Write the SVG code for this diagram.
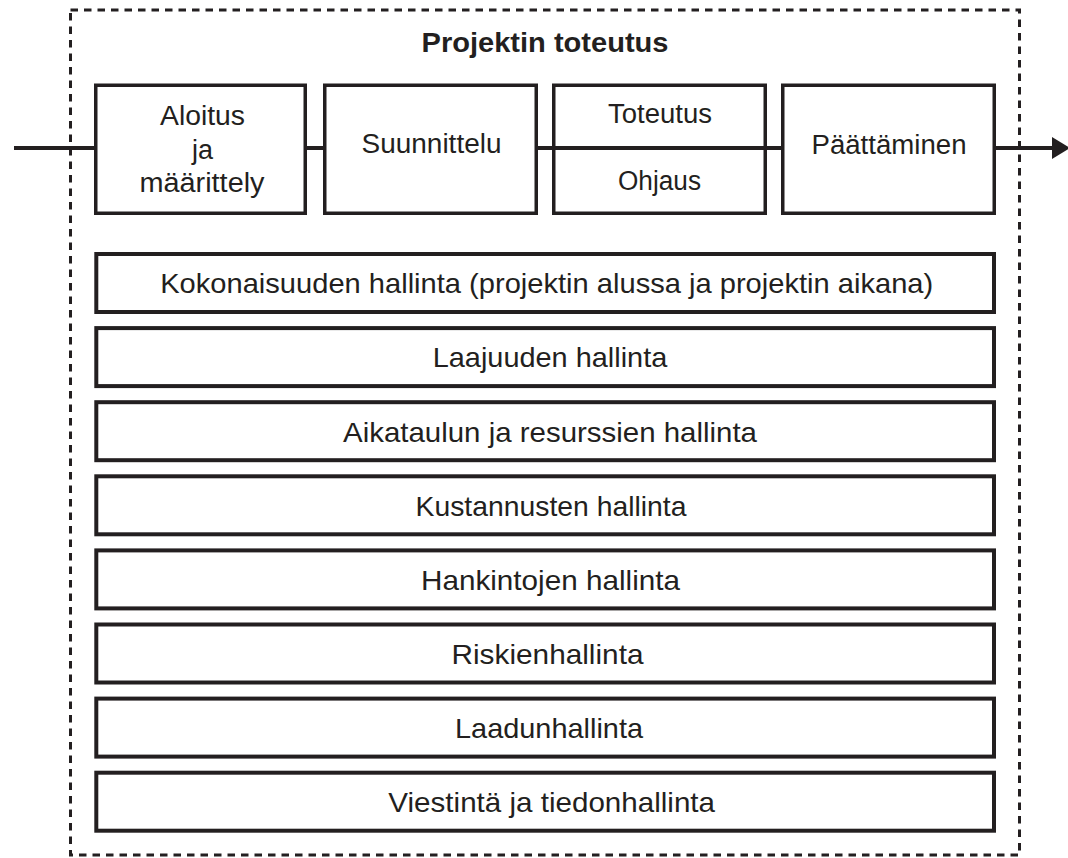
<svg xmlns="http://www.w3.org/2000/svg" width="1068" height="858" viewBox="0 0 1068 858">
<style>
  .frame { fill: none; stroke: #231f20; stroke-width: 3; stroke-dasharray: 7.5 6; }
  .phase { fill: #ffffff; stroke: #231f20; stroke-width: 3.5; }
  .row { fill: #ffffff; stroke: #231f20; stroke-width: 4; }
  .conn { fill: none; stroke: #231f20; stroke-width: 4; }
  text { font-family: "Liberation Sans", Arial, sans-serif; fill: #231f20; text-anchor: middle; }
  .title { font-size: 28px; font-weight: bold; }
  .ptxt { font-size: 27px; }
  .rtxt { font-size: 28px; }
</style>
<rect width="1068" height="858" fill="#ffffff"/>

<g id="frame">
  <rect class="frame" x="70.5" y="10" width="949" height="845"/>
  <text class="title" x="545" y="52" textLength="247" lengthAdjust="spacingAndGlyphs">Projektin toteutus</text>
</g>

<g id="connectors">
  <line class="conn" x1="14" y1="148" x2="95" y2="148"/>
  <line class="conn" x1="306" y1="148" x2="324" y2="148"/>
  <line class="conn" x1="537" y1="148" x2="782" y2="148"/>
  <line class="conn" x1="995" y1="148" x2="1054" y2="148"/>
  <polygon points="1052,137 1070,148 1052,159" fill="#231f20"/>
</g>

<g id="phase-aloitus">
  <rect class="phase" x="95.75" y="85.25" width="209.5" height="128"/>
  <text class="ptxt" x="202.5" y="125" textLength="85" lengthAdjust="spacingAndGlyphs">Aloitus</text>
  <text class="ptxt" x="202.5" y="159">ja</text>
  <text class="ptxt" x="202" y="192" textLength="125" lengthAdjust="spacingAndGlyphs">määrittely</text>
</g>

<g id="phase-suunnittelu">
  <rect class="phase" x="324.75" y="85.25" width="211.5" height="128"/>
  <text class="ptxt" x="431.5" y="153" textLength="140" lengthAdjust="spacingAndGlyphs">Suunnittelu</text>
</g>

<g id="phase-toteutus">
  <rect class="phase" x="553.75" y="85.25" width="211.5" height="128"/>
  <line class="conn" x1="553.75" y1="148" x2="765.25" y2="148"/>
  <text class="ptxt" x="660" y="122.7" textLength="104" lengthAdjust="spacingAndGlyphs">Toteutus</text>
  <text class="ptxt" x="659.5" y="190" textLength="83" lengthAdjust="spacingAndGlyphs">Ohjaus</text>
</g>

<g id="phase-paattaminen">
  <rect class="phase" x="782.75" y="85.25" width="211.5" height="128"/>
  <text class="ptxt" x="889" y="154" textLength="155" lengthAdjust="spacingAndGlyphs">Päättäminen</text>
</g>

<g id="row-kokonaisuus">
  <rect class="row" x="96.3" y="254" width="897.7" height="58"/>
  <text class="rtxt" x="546.7" y="293.3" textLength="773" lengthAdjust="spacingAndGlyphs">Kokonaisuuden hallinta (projektin alussa ja projektin aikana)</text>
</g>
<g id="row-laajuus">
  <rect class="row" x="96.3" y="328.1" width="897.7" height="58"/>
  <text class="rtxt" x="550" y="367.4" textLength="234.6" lengthAdjust="spacingAndGlyphs">Laajuuden hallinta</text>
</g>
<g id="row-aikataulu">
  <rect class="row" x="96.3" y="402.2" width="897.7" height="58"/>
  <text class="rtxt" x="550" y="441.5" textLength="414" lengthAdjust="spacingAndGlyphs">Aikataulun ja resurssien hallinta</text>
</g>
<g id="row-kustannukset">
  <rect class="row" x="96.3" y="476.3" width="897.7" height="58"/>
  <text class="rtxt" x="551" y="515.6" textLength="271" lengthAdjust="spacingAndGlyphs">Kustannusten hallinta</text>
</g>
<g id="row-hankinnat">
  <rect class="row" x="96.3" y="550.4" width="897.7" height="58"/>
  <text class="rtxt" x="550.5" y="589.7" textLength="259" lengthAdjust="spacingAndGlyphs">Hankintojen hallinta</text>
</g>
<g id="row-riskit">
  <rect class="row" x="96.3" y="624.5" width="897.7" height="58"/>
  <text class="rtxt" x="547.5" y="663.8" textLength="192" lengthAdjust="spacingAndGlyphs">Riskienhallinta</text>
</g>
<g id="row-laatu">
  <rect class="row" x="96.3" y="698.6" width="897.7" height="58"/>
  <text class="rtxt" x="549" y="737.9" textLength="188" lengthAdjust="spacingAndGlyphs">Laadunhallinta</text>
</g>
<g id="row-viestinta">
  <rect class="row" x="96.3" y="772.7" width="897.7" height="58"/>
  <text class="rtxt" x="551.7" y="812" textLength="326.7" lengthAdjust="spacingAndGlyphs">Viestintä ja tiedonhallinta</text>
</g>
</svg>
